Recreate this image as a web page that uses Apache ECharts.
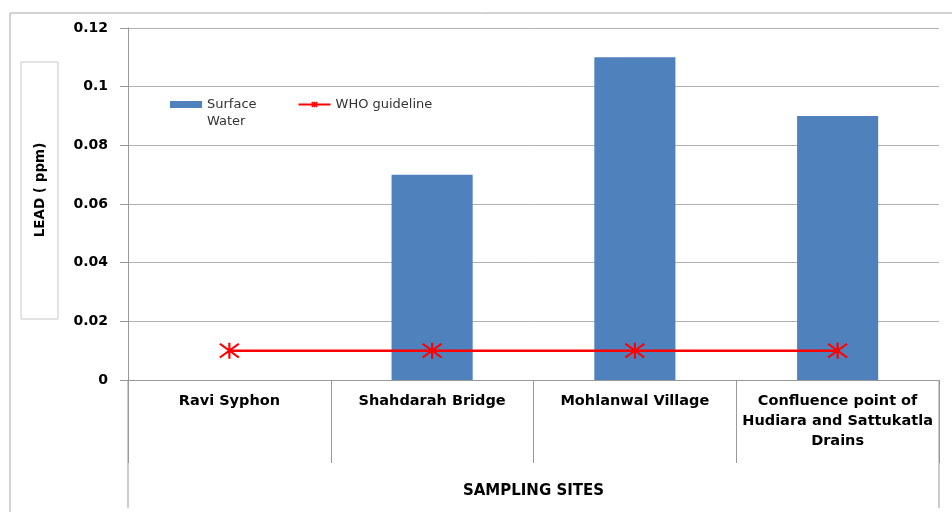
<!DOCTYPE html>
<html>
<head>
<meta charset="utf-8">
<script src="https://cdn.jsdelivr.net/npm/echarts@6/dist/echarts.min.js"></script>
<style>
  html, body { margin: 0; padding: 0; background: #fff; }
  #chart { width: 952px; height: 512px; }
</style>
</head>
<body>
<div id="chart"></div>
<script>
var categories = ['Ravi Syphon', 'Shahdarah Bridge', 'Mohlanwal Village',
    'Confluence point of\nHudiara and Sattukatla\nDrains'];
var surfaceWater = [0, 0.07, 0.11, 0.09];
var whoGuideline = [0.01, 0.01, 0.01, 0.01];
var yTicks = [0, 0.02, 0.04, 0.06, 0.08, 0.1, 0.12];

var font = '"DejaVu Sans", Verdana, sans-serif';
var star = 'path://M0,0L12,12M12,0L0,12M6,-1L6,13';

var chart = echarts.init(document.getElementById('chart'));
var option = {
    animation: false,
    textStyle: { fontFamily: font },
    grid: { left: 128, right: 13, top: 28, bottom: 132 },
    legend: {
        left: 165,
        top: 74,
        itemWidth: 32,
        itemHeight: 7,
        itemGap: 41,
        textStyle: { fontSize: 13, color: '#333', fontFamily: font, lineHeight: 17 },
        formatter: function (name) {
            // keep "Surface" level with the icon, "Water" underneath
            return name == 'Surface Water' ? ' \nSurface\nWater' : name;
        },
        data: [
            { name: 'Surface Water', icon: 'rect' },
            { name: 'WHO guideline', itemStyle: { borderWidth: 1.5 } }
        ]
    },
    xAxis: {
        type: 'category',
        data: categories,
        name: 'SAMPLING SITES',
        nameLocation: 'middle',
        nameGap: 104,
        nameTextStyle: { fontWeight: 'bold', fontSize: 15, color: '#000' },
        axisLine: { lineStyle: { color: '#999', width: 1 } },
        axisTick: { show: true, interval: 0, length: 83, lineStyle: { color: '#999' } },
        axisLabel: {
            interval: 0,
            color: '#000', fontWeight: 'bold', fontSize: 14.5, lineHeight: 20,
            margin: 11, verticalAlign: 'top'
        }
    },
    yAxis: {
        type: 'value',
        min: 0,
        max: 0.12,
        interval: 0.02,
        axisLine: { show: true, lineStyle: { color: '#999' } },
        axisTick: { show: true, length: 8, lineStyle: { color: '#999' } },
        splitLine: { lineStyle: { color: '#b0b0b0' } },
        axisLabel: {
            color: '#000', fontWeight: 'bold', fontSize: 14, margin: 20,
            formatter: function (v) {
                var r = Math.round(v * 100) / 100;
                return yTicks.indexOf(r) >= 0 ? String(r) : '';
            }
        }
    },
    series: [
        {
            name: 'Surface Water',
            type: 'bar',
            data: surfaceWater,
            barWidth: '40%',
            itemStyle: { color: '#4f81bd' }
        },
        {
            name: 'WHO guideline',
            type: 'line',
            data: whoGuideline,
            symbol: star,
            symbolSize: [19, 16],
            lineStyle: { color: '#ff0000', width: 2.5 },
            itemStyle: { color: '#ff0000', borderColor: '#ff0000', borderWidth: 2 }
        }
    ],
    graphic: [
        { type: 'rect', shape: { x: 10, y: 13, width: 960, height: 520 },
          style: { fill: 'none', stroke: '#a6a6a6', lineWidth: 1 }, silent: true },
        { type: 'line', shape: { x1: 128, y1: 380, x2: 128, y2: 508 },
          style: { stroke: '#999', lineWidth: 1 } },
        { type: 'line', shape: { x1: 939, y1: 380, x2: 939, y2: 508 },
          style: { stroke: '#999', lineWidth: 1 } },
        { type: 'rect', shape: { x: 21, y: 62, width: 37, height: 257 },
          style: { fill: 'none', stroke: '#c8c8c8', lineWidth: 1 } },
        { type: 'text', x: 40, y: 190, rotation: Math.PI / 2,
          style: { text: 'LEAD ( ppm)', font: 'bold 13.5px ' + font, fill: '#000',
                   align: 'center', verticalAlign: 'middle' } }
    ]
};
chart.setOption(option);
</script>
</body>
</html>
